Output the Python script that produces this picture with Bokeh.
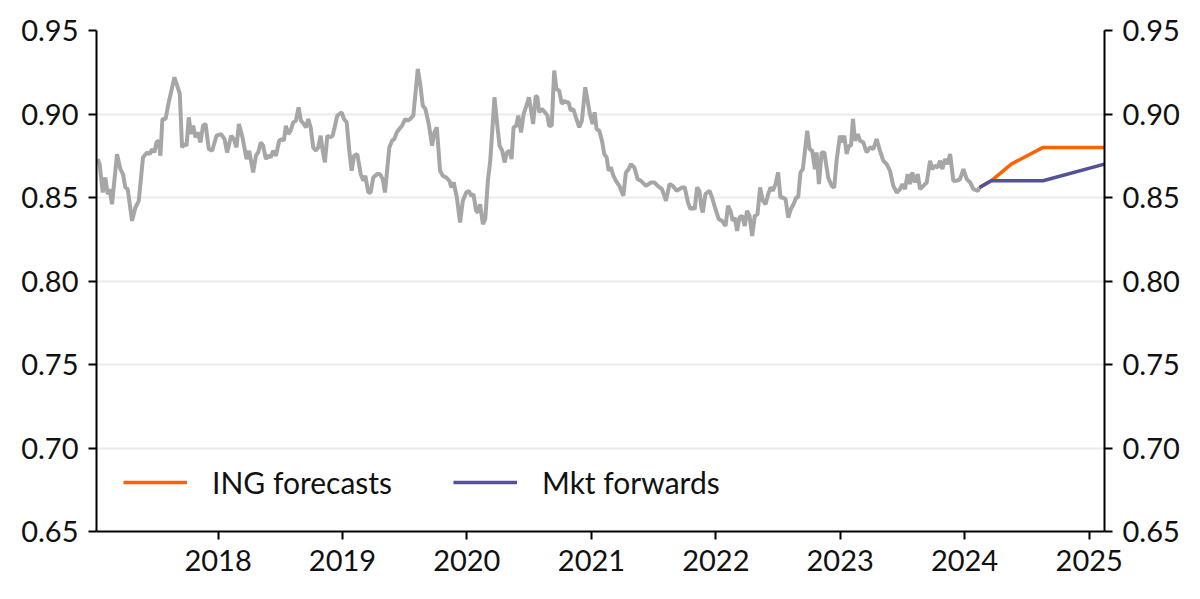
import pandas as pd
from bokeh.plotting import figure
from bokeh.models import (Range1d, LinearAxis, FixedTicker, NumeralTickFormatter,
                          DatetimeTickFormatter, Legend, LegendItem)
from bokeh.embed import file_html
from bokeh.resources import INLINE

# ---- data (decimal-year dates, EUR/GBP values) ----
hist_t = [
    2017.031, 2017.047, 2017.072, 2017.093, 2017.112, 2017.128, 2017.147, 2017.187, 2017.214, 2017.235,
    2017.254, 2017.273, 2017.308, 2017.335, 2017.362, 2017.396, 2017.428, 2017.450, 2017.469, 2017.488,
    2017.504, 2017.523, 2017.536, 2017.552, 2017.577, 2017.603, 2017.649, 2017.692, 2017.710, 2017.729,
    2017.746, 2017.764, 2017.783, 2017.799, 2017.818, 2017.837, 2017.858, 2017.879, 2017.899, 2017.925,
    2017.952, 2017.987, 2018.024, 2018.052, 2018.072, 2018.105, 2018.126, 2018.148, 2018.167, 2018.193,
    2018.229, 2018.250, 2018.282, 2018.304, 2018.322, 2018.344, 2018.362, 2018.384, 2018.403, 2018.422,
    2018.443, 2018.465, 2018.491, 2018.511, 2018.529, 2018.545, 2018.564, 2018.583, 2018.604, 2018.626,
    2018.647, 2018.666, 2018.690, 2018.706, 2018.725, 2018.744, 2018.765, 2018.787, 2018.805, 2018.825,
    2018.841, 2018.859, 2018.878, 2018.899, 2018.921, 2018.940, 2018.958, 2018.994, 2019.012, 2019.034,
    2019.055, 2019.074, 2019.093, 2019.119, 2019.147, 2019.168, 2019.184, 2019.208, 2019.227, 2019.248,
    2019.280, 2019.302, 2019.324, 2019.342, 2019.377, 2019.399, 2019.417, 2019.437, 2019.457, 2019.479,
    2019.506, 2019.525, 2019.544, 2019.570, 2019.606, 2019.627, 2019.646, 2019.667, 2019.694, 2019.721,
    2019.739, 2019.759, 2019.785, 2019.807, 2019.834, 2019.860, 2019.876, 2019.895, 2019.920, 2019.946,
    2019.968, 2019.995, 2020.016, 2020.035, 2020.053, 2020.075, 2020.089, 2020.107, 2020.129, 2020.148,
    2020.169, 2020.188, 2020.222, 2020.242, 2020.263, 2020.284, 2020.303, 2020.322, 2020.343, 2020.359,
    2020.375, 2020.397, 2020.413, 2020.435, 2020.456, 2020.478, 2020.499, 2020.532, 2020.553, 2020.566,
    2020.580, 2020.601, 2020.628, 2020.647, 2020.660, 2020.681, 2020.701, 2020.719, 2020.741, 2020.762,
    2020.781, 2020.794, 2020.816, 2020.834, 2020.854, 2020.875, 2020.902, 2020.923, 2020.950, 2020.969,
    2020.987, 2021.009, 2021.025, 2021.041, 2021.063, 2021.084, 2021.103, 2021.122, 2021.138, 2021.156,
    2021.176, 2021.197, 2021.224, 2021.256, 2021.277, 2021.299, 2021.317, 2021.345, 2021.371, 2021.398,
    2021.438, 2021.479, 2021.506, 2021.532, 2021.567, 2021.599, 2021.627, 2021.653, 2021.685, 2021.728,
    2021.750, 2021.776, 2021.796, 2021.814, 2021.830, 2021.849, 2021.868, 2021.884, 2021.895, 2021.916,
    2021.949, 2021.970, 2021.997, 2022.024, 2022.050, 2022.078, 2022.098, 2022.118, 2022.136, 2022.152,
    2022.171, 2022.190, 2022.211, 2022.233, 2022.251, 2022.271, 2022.292, 2022.313, 2022.335, 2022.356,
    2022.378, 2022.400, 2022.421, 2022.440, 2022.458, 2022.480, 2022.501, 2022.520, 2022.539, 2022.561,
    2022.582, 2022.603, 2022.625, 2022.646, 2022.662, 2022.681, 2022.700, 2022.735, 2022.754, 2022.775,
    2022.797, 2022.810, 2022.829, 2022.851, 2022.872, 2022.904, 2022.931, 2022.952, 2022.971, 2022.998,
    2023.016, 2023.033, 2023.052, 2023.070, 2023.087, 2023.103, 2023.119, 2023.141, 2023.159, 2023.186,
    2023.213, 2023.240, 2023.266, 2023.293, 2023.320, 2023.347, 2023.374, 2023.401, 2023.427, 2023.455,
    2023.481, 2023.500, 2023.521, 2023.543, 2023.562, 2023.580, 2023.602, 2023.624, 2023.642, 2023.669,
    2023.696, 2023.723, 2023.741, 2023.763, 2023.785, 2023.803, 2023.822, 2023.843, 2023.865, 2023.884,
    2023.910, 2023.938, 2023.964, 2023.991, 2024.018, 2024.045, 2024.071, 2024.107, 2024.120,
]
hist_v = [
    0.873, 0.870, 0.853, 0.862, 0.852, 0.855, 0.846, 0.876, 0.867, 0.864,
    0.856, 0.855, 0.836, 0.844, 0.848, 0.874, 0.877, 0.876, 0.879, 0.877,
    0.883, 0.884, 0.875, 0.897, 0.897, 0.907, 0.922, 0.912, 0.880, 0.882,
    0.881, 0.898, 0.888, 0.893, 0.886, 0.889, 0.883, 0.893, 0.894, 0.879,
    0.878, 0.887, 0.888, 0.885, 0.877, 0.887, 0.885, 0.880, 0.894, 0.887,
    0.873, 0.878, 0.865, 0.875, 0.877, 0.883, 0.881, 0.873, 0.875, 0.874,
    0.878, 0.875, 0.884, 0.885, 0.884, 0.893, 0.888, 0.890, 0.895, 0.896,
    0.904, 0.896, 0.894, 0.892, 0.897, 0.892, 0.880, 0.878, 0.880, 0.887,
    0.878, 0.871, 0.887, 0.886, 0.887, 0.893, 0.899, 0.901, 0.897, 0.895,
    0.878, 0.866, 0.875, 0.876, 0.864, 0.860, 0.863, 0.853, 0.853, 0.862,
    0.864, 0.864, 0.861, 0.853, 0.880, 0.884, 0.885, 0.889, 0.891, 0.893,
    0.897, 0.896, 0.897, 0.899, 0.927, 0.917, 0.905, 0.903, 0.894, 0.881,
    0.889, 0.892, 0.866, 0.863, 0.862, 0.860, 0.856, 0.859, 0.850, 0.835,
    0.848, 0.853, 0.854, 0.851, 0.852, 0.842, 0.841, 0.846, 0.834, 0.837,
    0.860, 0.872, 0.910, 0.895, 0.881, 0.878, 0.871, 0.877, 0.878, 0.873,
    0.892, 0.893, 0.899, 0.889, 0.900, 0.905, 0.910, 0.894, 0.911, 0.910,
    0.901, 0.903, 0.901, 0.899, 0.893, 0.893, 0.926, 0.915, 0.914, 0.906,
    0.908, 0.907, 0.907, 0.902, 0.903, 0.898, 0.892, 0.896, 0.916, 0.908,
    0.900, 0.894, 0.901, 0.891, 0.890, 0.884, 0.876, 0.874, 0.866, 0.868,
    0.863, 0.860, 0.857, 0.851, 0.865, 0.867, 0.870, 0.868, 0.861, 0.860,
    0.857, 0.859, 0.859, 0.857, 0.855, 0.848, 0.858, 0.857, 0.854, 0.856,
    0.856, 0.847, 0.843, 0.844, 0.843, 0.856, 0.854, 0.844, 0.841, 0.852,
    0.854, 0.850, 0.843, 0.837, 0.836, 0.833, 0.845, 0.842, 0.836, 0.838,
    0.830, 0.838, 0.839, 0.833, 0.842, 0.839, 0.827, 0.839, 0.840, 0.856,
    0.848, 0.846, 0.852, 0.856, 0.854, 0.858, 0.865, 0.850, 0.850, 0.849,
    0.838, 0.843, 0.846, 0.850, 0.850, 0.865, 0.867, 0.890, 0.879, 0.878,
    0.867, 0.877, 0.858, 0.877, 0.877, 0.862, 0.857, 0.856, 0.872, 0.887,
    0.883, 0.887, 0.876, 0.881, 0.881, 0.897, 0.884, 0.888, 0.884, 0.883,
    0.877, 0.880, 0.879, 0.885, 0.878, 0.872, 0.870, 0.866, 0.857, 0.853,
    0.855, 0.858, 0.855, 0.864, 0.858, 0.865, 0.859, 0.864, 0.855, 0.857,
    0.859, 0.872, 0.867, 0.869, 0.868, 0.872, 0.867, 0.873, 0.870, 0.876,
    0.860, 0.860, 0.861, 0.867, 0.861, 0.859, 0.855, 0.854, 0.856,
]

ing_t = [2024.120, 2024.214, 2024.375, 2024.630, 2025.123]
ing_v = [0.856, 0.860, 0.870, 0.880, 0.880]
mkt_t = [2024.120, 2024.214, 2024.630, 2025.123]
mkt_v = [0.856, 0.860, 0.860, 0.870]

year_ticks = [2018, 2019, 2020, 2021, 2022, 2023, 2024, 2025]
y_ticks = [0.65, 0.70, 0.75, 0.80, 0.85, 0.90, 0.95]
series_names = ["ING forecasts", "Mkt forwards"]

x_start, x_end = 2017.022, 2025.123
y_start, y_end = 0.65, 0.95


def to_dt(y):
    yr = int(y)
    a = pd.Timestamp(yr, 1, 1)
    b = pd.Timestamp(yr + 1, 1, 1)
    return a + (b - a) * (y - yr)


def to_dts(ts):
    return [to_dt(t) for t in ts]


FONT = "Lato"
FS = "29px"
LFS = "30px"
GRAY = "#A6A6A6"
ORANGE = "#FF6200"
PURPLE = "#525199"

p = figure(width=1184, height=583, x_axis_type="datetime",
           x_range=Range1d(to_dt(x_start), to_dt(x_end)),
           y_range=Range1d(y_start, y_end),
           output_backend="svg", toolbar_location=None)
p.min_border_left = 96
p.min_border_right = 80
p.min_border_top = 30
p.min_border_bottom = 52
p.outline_line_color = None
p.background_fill_color = "white"
p.border_fill_color = "white"

p.line(to_dts(hist_t), hist_v, line_color=GRAY, line_width=4)
r_ing = p.line(to_dts(ing_t), ing_v, line_color=ORANGE, line_width=3.5)
r_mkt = p.line(to_dts(mkt_t), mkt_v, line_color=PURPLE, line_width=3.5)

# right axis
p.add_layout(LinearAxis(), "right")


def style_axis(ax):
    ax.axis_line_color = "black"
    ax.axis_line_width = 2
    ax.major_tick_line_color = "black"
    ax.major_tick_line_width = 2
    ax.major_tick_out = 8
    ax.major_tick_in = 0
    ax.minor_tick_out = 0
    ax.minor_tick_in = 0
    ax.major_label_text_font = FONT
    ax.major_label_text_font_size = FS
    ax.major_label_text_color = "#111111"
    ax.major_label_standoff = 10


year_ms = [to_dt(y).value / 1e6 for y in year_ticks]
p.xaxis.ticker = FixedTicker(ticks=year_ms)
p.xaxis.formatter = DatetimeTickFormatter(
    years="%Y", months="%Y", days="%Y", hours="%Y", minutes="%Y",
    seconds="%Y", milliseconds="%Y", microseconds="%Y", hourmin="%Y",
    minsec="%Y")
for ax in p.yaxis:
    ax.ticker = FixedTicker(ticks=y_ticks)
    ax.formatter = NumeralTickFormatter(format="0.00")
for ax in list(p.xaxis) + list(p.yaxis):
    style_axis(ax)

p.xgrid.visible = False
p.ygrid.ticker = FixedTicker(ticks=y_ticks)
p.ygrid.grid_line_color = "#EBEBEB"
p.ygrid.grid_line_width = 2

for rend, name, loc in [(r_ing, series_names[0], (27, 31)),
                        (r_mkt, series_names[1], (357, 31))]:
    lg = Legend(items=[LegendItem(label=name, renderers=[rend])],
                location=loc, orientation="horizontal")
    lg.padding = 0
    lg.margin = 0
    lg.border_line_alpha = 0
    lg.background_fill_alpha = 0
    lg.glyph_width = 64
    lg.glyph_height = 30
    lg.label_height = 30
    lg.label_standoff = 25
    lg.label_text_font = FONT
    lg.label_text_font_size = LFS
    lg.label_text_color = "#111111"
    p.add_layout(lg)

open("out.html", "w").write(file_html(p, INLINE))
